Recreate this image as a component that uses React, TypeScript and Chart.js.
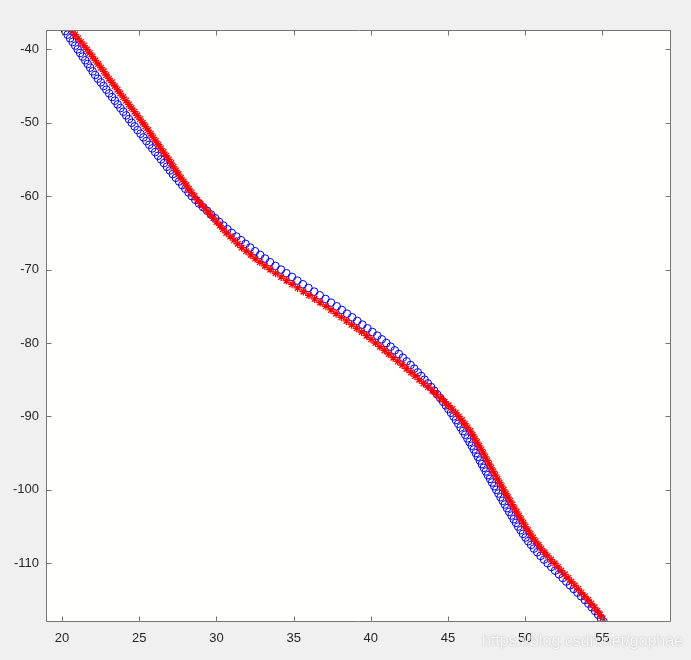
import React, { useEffect, useRef } from 'react';
import { Chart, registerables } from 'chart.js';

Chart.register(...registerables);

// ---- data ----
const yLevels = [
  -37.5, -38, -38.5, -39, -39.5, -40,
  -40.5, -41, -41.5, -42, -42.5, -43, -43.5, -44, -44.5, -45, -45.5, -46, -46.5, -47, -47.5, -48, -48.5, -49, -49.5, -50,
  -50.5, -51, -51.5, -52, -52.5, -53, -53.5, -54, -54.5, -55, -55.5, -56, -56.5, -57, -57.5, -58, -58.5, -59, -59.5, -60,
  -60.5, -61, -61.5, -62, -62.5, -63, -63.5, -64, -64.5, -65, -65.5, -66, -66.5, -67, -67.5, -68, -68.5, -69, -69.5, -70,
  -70.5, -71, -71.5, -72, -72.5, -73, -73.5, -74, -74.5, -75, -75.5, -76, -76.5, -77, -77.5, -78, -78.5, -79, -79.5, -80,
  -80.5, -81, -81.5, -82, -82.5, -83, -83.5, -84, -84.5, -85, -85.5, -86, -86.5, -87, -87.5, -88, -88.5, -89, -89.5, -90,
  -90.5, -91, -91.5, -92, -92.5, -93, -93.5, -94, -94.5, -95, -95.5, -96, -96.5, -97, -97.5, -98, -98.5, -99, -99.5, -100,
  -100.5, -101, -101.5, -102, -102.5, -103, -103.5, -104, -104.5, -105, -105.5, -106, -106.5, -107, -107.5, -108, -108.5, -109, -109.5, -110,
  -110.5, -111, -111.5, -112, -112.5, -113, -113.5, -114, -114.5, -115, -115.5, -116, -116.5, -117, -117.5, -118,
];

const blueX = [
  20.20, 20.36, 20.52, 20.68, 20.85, 21.01,
  21.17, 21.33, 21.50, 21.66, 21.82, 21.98, 22.14, 22.32, 22.51, 22.69, 22.87, 23.05, 23.24, 23.42, 23.60, 23.78, 23.97, 24.15, 24.33, 24.51,
  24.70, 24.89, 25.08, 25.27, 25.46, 25.65, 25.84, 26.03, 26.22, 26.41, 26.60, 26.79, 26.98, 27.17, 27.37, 27.58, 27.78, 27.99, 28.19, 28.40,
  28.63, 28.87, 29.13, 29.39, 29.65, 29.91, 30.17, 30.44, 30.71, 30.99, 31.29, 31.59, 31.88, 32.18, 32.50, 32.83, 33.15, 33.47, 33.82, 34.18,
  34.53, 34.89, 35.24, 35.60, 35.96, 36.33, 36.69, 37.06, 37.42, 37.79, 38.12, 38.45, 38.79, 39.12, 39.45, 39.78, 40.10, 40.42, 40.71, 41.00,
  41.28, 41.55, 41.81, 42.07, 42.32, 42.57, 42.81, 43.04, 43.26, 43.48, 43.69, 43.90, 44.10, 44.30, 44.49, 44.68, 44.85, 45.02, 45.19, 45.35,
  45.51, 45.66, 45.81, 45.96, 46.11, 46.25, 46.39, 46.53, 46.67, 46.80, 46.93, 47.06, 47.19, 47.32, 47.45, 47.58, 47.72, 47.85, 47.99, 48.12,
  48.26, 48.40, 48.54, 48.68, 48.82, 48.96, 49.11, 49.25, 49.40, 49.54, 49.70, 49.85, 50.02, 50.19, 50.38, 50.56, 50.78, 50.99, 51.22, 51.45,
  51.69, 51.93, 52.18, 52.42, 52.66, 52.90, 53.14, 53.38, 53.62, 53.86, 54.09, 54.31, 54.52, 54.72, 54.90, 55.08,
];

const redX = [
  20.65, 20.84, 21.03, 21.22, 21.42, 21.61,
  21.79, 21.97, 22.16, 22.34, 22.52, 22.70, 22.86, 23.04, 23.23, 23.41, 23.59, 23.77, 23.96, 24.14, 24.32, 24.50, 24.69, 24.87, 25.05, 25.23,
  25.40, 25.57, 25.74, 25.90, 26.07, 26.24, 26.40, 26.57, 26.74, 26.91, 27.07, 27.22, 27.38, 27.54, 27.70, 27.88, 28.05, 28.22, 28.39, 28.57,
  28.76, 28.97, 29.18, 29.39, 29.60, 29.81, 30.01, 30.22, 30.42, 30.64, 30.89, 31.14, 31.38, 31.63, 31.92, 32.22, 32.51, 32.81, 33.14, 33.48,
  33.83, 34.19, 34.54, 34.90, 35.26, 35.63, 35.99, 36.36, 36.72, 37.09, 37.42, 37.75, 38.09, 38.42, 38.75, 39.08, 39.40, 39.72, 40.01, 40.30,
  40.59, 40.88, 41.16, 41.45, 41.74, 42.03, 42.31, 42.59, 42.86, 43.13, 43.41, 43.70, 43.98, 44.25, 44.52, 44.78, 45.03, 45.27, 45.49, 45.70,
  45.90, 46.08, 46.26, 46.44, 46.59, 46.73, 46.87, 47.01, 47.15, 47.28, 47.41, 47.54, 47.67, 47.80, 47.93, 48.06, 48.20, 48.33, 48.47, 48.60,
  48.74, 48.88, 49.02, 49.16, 49.30, 49.44, 49.59, 49.73, 49.88, 50.02, 50.18, 50.33, 50.50, 50.67, 50.86, 51.04, 51.25, 51.45, 51.67, 51.90,
  52.12, 52.33, 52.56, 52.78, 52.99, 53.21, 53.43, 53.64, 53.86, 54.08, 54.28, 54.48, 54.67, 54.84, 55.00,
];

const xTicks = [20, 25, 30, 35, 40, 45, 50, 55];
const yTicks = [-40, -50, -60, -70, -80, -90, -100, -110];
const xLimits = [18.96, 59.44];
const yLimits = [-118, -37.37];
const watermark = 'https://blog.csdn.net/gophae';

const FONT = "'Liberation Sans', Arial, Helvetica, sans-serif";

const matlabFrame = {
  id: 'matlabFrame',
  beforeDraw(chart: any) {
    const { ctx, chartArea: a } = chart;
    ctx.save();
    ctx.fillStyle = '#f0f0f0';
    ctx.fillRect(0, 0, chart.width, chart.height);
    ctx.fillStyle = '#fffffb';
    ctx.fillRect(a.left, a.top, a.right - a.left, a.bottom - a.top);
    ctx.restore();
  },
  afterDatasetsDraw(chart: any) {
    const { ctx, chartArea: a, scales } = chart;
    const L = Math.round(a.left) + 0.5;
    const R = Math.round(a.right) - 0.5;
    const T = Math.round(a.top) + 0.5;
    const B = Math.round(a.bottom) - 0.5;
    const tl = 5;
    ctx.save();
    ctx.strokeStyle = '#757575';
    ctx.lineWidth = 1;
    ctx.beginPath();
    ctx.rect(L, T, R - L, B - T);
    xTicks.forEach((v) => {
      const px = Math.round(scales.x.getPixelForValue(v)) + 0.5;
      ctx.moveTo(px, B);
      ctx.lineTo(px, B - tl);
      ctx.moveTo(px, T);
      ctx.lineTo(px, T + tl);
    });
    yTicks.forEach((v) => {
      const py = Math.round(scales.y.getPixelForValue(v)) + 0.5;
      ctx.moveTo(L, py);
      ctx.lineTo(L + tl, py);
      ctx.moveTo(R, py);
      ctx.lineTo(R - tl, py);
    });
    ctx.stroke();
    ctx.restore();
  },
  afterDraw(chart: any) {
    const { ctx } = chart;
    ctx.save();
    ctx.font = `16px ${FONT}`;
    ctx.textAlign = 'left';
    ctx.textBaseline = 'alphabetic';
    ctx.shadowColor = 'rgba(0,0,0,0.35)';
    ctx.shadowBlur = 1.5;
    ctx.fillStyle = 'rgba(255,255,255,0.9)';
    ctx.fillText(watermark, 482, 646);
    ctx.restore();
  },
};

export default function App() {
  const canvasRef = useRef<HTMLCanvasElement | null>(null);

  useEffect(() => {
    document.body.style.margin = '0';
    document.body.style.background = '#f0f0f0';
    const canvas = canvasRef.current;
    if (!canvas) return;

    const blueData = yLevels.map((y, i) => ({ x: blueX[i], y }));
    const redData = redX.map((x, i) => ({ x, y: yLevels[i] }));

    const chart = new Chart(canvas, {
      type: 'scatter',
      data: {
        datasets: [
          {
            label: 'red',
            data: redData,
            pointStyle: 'star',
            pointRadius: 4,
            borderColor: '#ff0000',
            backgroundColor: '#ff0000',
            borderWidth: 1.3,
            order: 0,
          },
          {
            label: 'blue',
            data: blueData,
            pointStyle: 'circle',
            pointRadius: 3.8,
            borderColor: '#0000ff',
            backgroundColor: 'rgba(0,0,0,0)',
            borderWidth: 1,
            order: 1,
          },
        ],
      },
      options: {
        animation: false,
        responsive: true,
        maintainAspectRatio: false,
        events: [],
        layout: { padding: { left: 0, right: 20, top: 30, bottom: 0 } },
        plugins: {
          legend: { display: false },
          tooltip: { enabled: false },
        },
        scales: {
          x: {
            type: 'linear',
            min: xLimits[0],
            max: xLimits[1],
            grid: { display: false, drawTicks: false },
            border: { display: false },
            ticks: {
              padding: 9,
              color: '#262626',
              font: { family: FONT, size: 13 },
              callback: (v: any) => String(v),
            },
            afterBuildTicks: (s: any) => {
              s.ticks = xTicks.map((v) => ({ value: v }));
            },
            afterFit: (s: any) => {
              s.height = 38;
            },
          },
          y: {
            type: 'linear',
            min: yLimits[0],
            max: yLimits[1],
            grid: { display: false, drawTicks: false },
            border: { display: false },
            ticks: {
              padding: 7,
              color: '#262626',
              font: { family: FONT, size: 13 },
              callback: (v: any) => String(v),
            },
            afterBuildTicks: (s: any) => {
              s.ticks = yTicks.map((v) => ({ value: v }));
            },
            afterFit: (s: any) => {
              s.width = 46;
            },
          },
        },
      },
      plugins: [matlabFrame],
    });

    return () => {
      chart.destroy();
    };
  }, []);

  return (
    <div style={{ position: 'absolute', left: 0, top: 0, width: 691, height: 660, background: '#f0f0f0' }}>
      <canvas ref={canvasRef} />
    </div>
  );
}
